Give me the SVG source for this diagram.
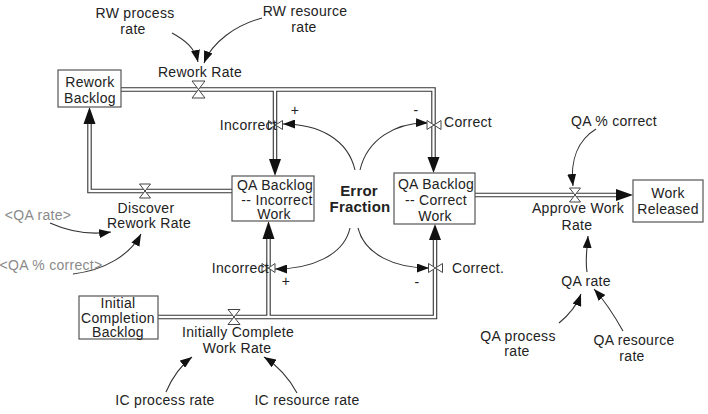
<svg xmlns="http://www.w3.org/2000/svg" width="708" height="414" viewBox="0 0 708 414">
<defs>
<marker id="ah" markerUnits="userSpaceOnUse" markerWidth="13" markerHeight="9" refX="12" refY="4.5" orient="auto">
<path d="M0,0 L12,4.5 L0,9 z" fill="#111"/>
</marker>
<style>
text{font-family:"Liberation Sans",Arial,sans-serif;font-size:14px;letter-spacing:0.3px;fill:#222;text-anchor:middle}
.g{fill:#8a8a8a}
.b{font-weight:bold;font-size:15px;letter-spacing:0.2px}
.l{text-anchor:start}
.r{text-anchor:end}
.box{fill:#fff;stroke:#555;stroke-width:1.2}
.po{fill:none;stroke:#333;stroke-width:4.5}
.pi{fill:none;stroke:#fff;stroke-width:2.3}
.ph{fill:#111}
.valve{fill:#fff;stroke:#444;stroke-width:1}
.c{fill:none;stroke:#333;stroke-width:1.1;marker-end:url(#ah)}
</style>
</defs>
<rect width="708" height="414" fill="#fff"/>

<g id="flows">
<path class="po" d="M121,89.5 H433.5 V158 M275,89.5 V160 M158,317 H435 V240 M268.5,317 V238 M232,191 H89.5 V124 M475,195 H617"/>
<path class="pi" d="M121,89.5 H433.5 V158 M275,89.5 V160 M158,317 H435 V240 M268.5,317 V238 M232,191 H89.5 V124 M475,195 H617"/>
<polygon class="ph" points="269,159 281,159 275,176"/>
<polygon class="ph" points="427.5,157 439.5,157 433.5,173"/>
<polygon class="ph" points="262.5,239 274.5,239 268.5,221"/>
<polygon class="ph" points="429,240 441,240 435,224"/>
<polygon class="ph" points="83.5,124 95.5,124 89.5,107"/>
<polygon class="ph" points="616,189 616,201 633,195"/>
</g>

<g id="connectors">
<path class="c" d="M172,33 C185,40 195,48 198,62"/>
<path class="c" d="M262,18 C236,25 212,42 204,63"/>
<path class="c" d="M596,129 C578,140 570,160 573,186"/>
<path class="c" d="M587,272 C585,260 587,250 588,236"/>
<path class="c" d="M559,323 C570,314 577,305 581,294"/>
<path class="c" d="M623,331 C614,315 604,300 594,289"/>
<path class="c" d="M50,223 C70,232 90,235 111,232"/>
<path class="c" d="M73,274 C105,270 130,255 141,234"/>
<path class="c" d="M166,392 C172,378 180,366 192,357"/>
<path class="c" d="M297,393 C290,380 278,366 264,357"/>
<path class="c" d="M355,170 C348,140 320,124 283,124"/>
<path class="c" d="M360,170 C367,140 395,122 428,123"/>
<path class="c" d="M350,228 C344,255 312,269 275,269"/>
<path class="c" d="M358,228 C365,255 395,268 429,268"/>
</g>

<g id="rework-backlog">
<rect class="box" x="58" y="70" width="63" height="37"/>
<text x="90" y="86.5">Rework</text>
<text x="90" y="103">Backlog</text>
</g>
<g id="qa-backlog-incorrect">
<rect class="box" x="232" y="176" width="82" height="45"/>
<text x="275" y="190">QA Backlog</text>
<text x="277" y="204.5">-- Incorrect</text>
<text x="274" y="219">Work</text>
</g>
<g id="qa-backlog-correct">
<rect class="box" x="394" y="173" width="81" height="51"/>
<text x="436" y="189">QA Backlog</text>
<text x="436" y="205">-- Correct</text>
<text x="435" y="221">Work</text>
</g>
<g id="work-released">
<rect class="box" x="633" y="180" width="70" height="42"/>
<text x="668" y="198">Work</text>
<text x="668" y="214">Released</text>
</g>
<g id="initial-completion-backlog">
<rect class="box" x="79" y="296" width="79" height="43"/>
<text x="118" y="308">Initial</text>
<text x="118" y="322.5">Completion</text>
<text x="118" y="337">Backlog</text>
</g>

<g id="rework-rate">
<polygon class="valve" points="192,81 205,81 192,98 205,98"/>
<text x="200" y="77">Rework Rate</text>
</g>
<g id="discover-rework-rate">
<polygon class="valve" points="139.5,184 150.5,184 139.5,198 150.5,198"/>
<text x="146" y="212.5">Discover</text>
<text x="149" y="228">Rework Rate</text>
</g>
<g id="approve-work-rate">
<polygon class="valve" points="569.5,188 580.5,188 569.5,202 580.5,202"/>
<text x="578" y="213">Approve Work</text>
<text x="577" y="230">Rate</text>
</g>
<g id="initially-complete-work-rate">
<polygon class="valve" points="228,309.5 240,309.5 228,324.5 240,324.5"/>
<text x="238" y="337">Initially Complete</text>
<text x="237" y="353">Work Rate</text>
</g>
<g id="incorrect-top">
<polygon class="valve" points="268.5,120.5 268.5,129.5 282.5,120.5 282.5,129.5"/>
<text class="r" x="277" y="130">Incorrect</text>
</g>
<g id="correct-top">
<polygon class="valve" points="427,120.5 427,129.5 441,120.5 441,129.5"/>
<text class="l" x="444" y="127">Correct</text>
</g>
<g id="incorrect-bottom">
<polygon class="valve" points="262,263.5 262,272.5 275,263.5 275,272.5"/>
<text class="r" x="269" y="273">Incorrect</text>
</g>
<g id="correct-bottom">
<polygon class="valve" points="428.5,263.5 428.5,272.5 442.5,263.5 442.5,272.5"/>
<text class="l" x="452" y="273">Correct.</text>
</g>
<g id="polarity">
<text x="295" y="115">+</text>
<text x="416" y="115">-</text>
<text x="286" y="286">+</text>
<text x="417" y="287">-</text>
</g>
<g id="error-fraction">
<text class="b" x="359" y="196">Error</text>
<text class="b" x="360" y="212">Fraction</text>
</g>
<g id="rw-process-rate"><text x="135" y="18">RW process</text><text x="133" y="34">rate</text></g>
<g id="rw-resource-rate"><text x="305" y="16">RW resource</text><text x="304" y="32">rate</text></g>
<g id="qa-pct-correct"><text x="614" y="126">QA % correct</text></g>
<g id="qa-rate"><text x="586" y="286">QA rate</text></g>
<g id="qa-process-rate"><text x="518" y="341">QA process</text><text x="517" y="356">rate</text></g>
<g id="qa-resource-rate"><text x="634" y="345">QA resource</text><text x="632" y="361">rate</text></g>
<g id="qa-rate-shadow"><text class="g" x="38" y="220">&lt;QA rate&gt;</text></g>
<g id="qa-pct-correct-shadow"><text class="g" x="51" y="270">&lt;QA % correct&gt;</text></g>
<g id="ic-process-rate"><text x="165" y="405">IC process rate</text></g>
<g id="ic-resource-rate"><text x="307" y="405">IC resource rate</text></g>
</svg>
